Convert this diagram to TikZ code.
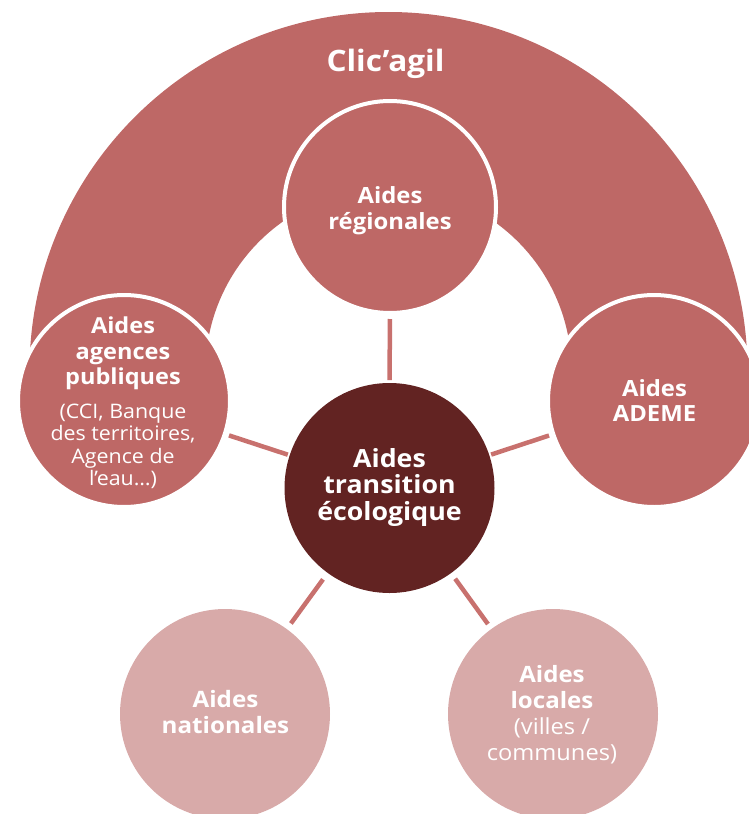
\documentclass[tikz,border=0pt]{standalone}
\usepackage{fontspec}
\setmainfont{Open Sans}[FakeStretch=1.07]
\definecolor{archc}{HTML}{BE6866}
\definecolor{darkc}{HTML}{622322}
\definecolor{lightc}{HTML}{D8AAA9}
\definecolor{linec}{HTML}{C8716E}
\newcommand{\lite}[2]{{\mdseries\fontsize{#1}{#1}\selectfont #2}}
\begin{document}
\begin{tikzpicture}[x=1pt,y=1pt,
  bub/.style={circle, inner sep=0pt},
  ring/.style={bub, fill=archc, draw=white, line width=4pt, outer sep=2pt, minimum size=212pt},
  core/.style={bub, fill=darkc, outer sep=0pt, minimum size=210pt},
  soft/.style={bub, fill=lightc, outer sep=0pt, minimum size=210pt},
  conn/.style={draw=linec, line width=4.5pt},
  lbl/.style={align=center, text=white, inner sep=0pt, outer sep=0pt}
]
\useasboundingbox (0,0) rectangle (749,-814);
% arch
\fill[archc] (29.5,-371) arc[start angle=180,end angle=0,radius=359]
  -- (571.5,-371) arc[start angle=0,end angle=180,radius=183] -- cycle;
\node[lbl, font=\bfseries\fontsize{29.5}{34}\selectfont, anchor=base] (title) at (385.5,-71.7) {Clic’agil};
% circles
\node[ring] (reg) at (390,-207) {};
\node[ring] (agc) at (124,-401) {};
\node[ring] (ademe) at (654,-401) {};
\node[core] (core) at (389.5,-488) {};
\node[soft] (nat) at (225,-714) {};
\node[soft] (loc) at (553,-714) {};
% texts
\node[lbl, font=\bfseries\fontsize{22.3}{26}\selectfont] (reg-t) at (390,-210.5) {Aides\\régionales};
\node[lbl, font=\bfseries\fontsize{22}{25.5}\selectfont] (agc-t) at (123,-403) {Aides\\agences\\publiques\\[8.2pt]\lite{20}{(CCI, Banque}\\[-3.1pt]\lite{20}{des territoires,}\\[-3pt]\lite{20}{Agence de}\\[-3.1pt]\lite{20}{l’eau…)}};
\node[lbl, font=\bfseries\fontsize{22.3}{25}\selectfont] (ademe-t) at (654.5,-400.8) {Aides\\ADEME};
\node[lbl, font=\bfseries\fontsize{25}{26.4}\selectfont] (core-t) at (389.5,-487.2) {Aides\\transition\\écologique};
\node[lbl, font=\bfseries\fontsize{22.6}{25.6}\selectfont] (nat-t) at (225.5,-711.9) {Aides\\nationales};
\node[lbl, font=\bfseries\fontsize{22.5}{26}\selectfont] (loc-t) at (552,-714.8) {Aides\\locales\\\lite{22.1}{(villes /}\\\lite{22.1}{communes)}};
% connectors
\draw[conn, shorten <=4pt, shorten >=3pt] (reg) -- (core);
\draw[conn, shorten <=2.5pt, shorten >=2pt] (agc) -- (core);
\draw[conn, shorten <=2.5pt, shorten >=2pt] (ademe) -- (core);
\draw[conn, shorten <=7pt, shorten >=8pt] (nat) -- (core);
\draw[conn, shorten <=6pt, shorten >=7pt] (loc) -- (core);
\end{tikzpicture}
\end{document}
